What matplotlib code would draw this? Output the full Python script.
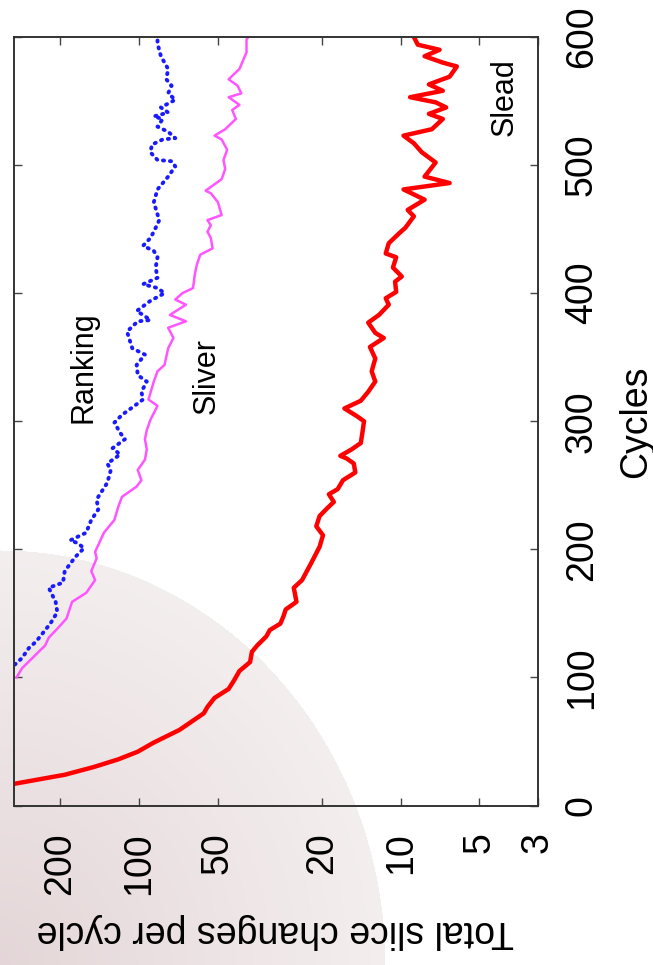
import numpy as np
import matplotlib
matplotlib.use('Agg')
import matplotlib.pyplot as plt

slead_cyc = [17, 20, 24, 30, 36, 42, 49, 59, 72, 77, 84, 91, 98, 105, 112, 120, 125,
             132, 137, 142, 148, 153, 159, 170, 176, 189, 202, 211, 218, 226, 232, 237,
             243, 247, 254, 260, 267, 271, 273, 278, 283, 291, 300, 304, 310, 316, 323,
             331, 339, 349, 358, 365, 369, 377, 383, 391, 396, 401, 409, 413, 420, 428,
             431, 439, 447, 451, 460, 465, 473, 481, 486, 491, 502, 510, 517, 523, 528,
             536, 540, 545, 549, 553, 558, 563, 569, 577, 580, 585, 590, 594, 600]
slead_val = [298, 247, 192, 149, 120, 101, 88, 70, 56.5, 54.7, 51.4, 45.4, 43.2, 41.3,
             37.6, 37, 35.3, 32.6, 31.6, 28.8, 28, 27.5, 25, 25.6, 23.8, 22, 20.4, 19.8,
             21, 20.4, 19.1, 18, 18.8, 17.4, 16.6, 14.9, 15.1, 16.1, 17.0, 15.4, 14.2, 14,
             13.8, 14.7, 16.4, 14.2, 13.3, 12.5, 12.9, 12.5, 13.1, 11.6, 12.5, 13.3, 12.1,
             11.1, 11.4, 10.4, 10.5, 9.9, 10.7, 10.4, 11.4, 11.1, 10.1, 9.6, 8.9, 9.4, 8.1,
             9.75, 6.5, 8.1, 7.35, 8.3, 8.9, 9.75, 7.6, 6.9, 7.8, 6.7, 7.35, 9.2, 6.9, 7.8,
             6.5, 6.1, 6.9, 8.1, 7.1, 8.6, 8.9]

sliver_cyc = [100, 107, 118, 125, 131, 138, 146, 159, 166, 176, 183, 193, 198, 213, 223,
              233, 241, 249, 254, 262, 270, 278, 286, 293, 301, 312, 317, 331, 339, 344,
              357, 365, 373, 378, 383, 391, 395, 400, 404, 415, 422, 430, 435, 443, 448,
              453, 457, 461, 471, 478, 480, 489, 497, 504, 512, 520, 523, 528, 536, 543,
              547, 553, 556, 562, 567, 575, 588, 598, 600]
sliver_val = [293, 280, 247, 228, 221, 205, 189, 180, 159, 147, 152, 145, 147, 136, 124,
              120, 116, 102, 97.8, 101, 94.8, 93.3, 94.8, 93.3, 90.4, 84.9, 91.9, 87.7,
              84.9, 79.8, 77.3, 73.8, 77.3, 66.1, 76.1, 66.1, 72.6, 68.2, 62.1, 61.1, 60.1,
              58.3, 52.3, 53.1, 54.7, 53.1, 54.7, 48.3, 49.9, 53.1, 55.6, 48.3, 46.8, 47.5,
              46, 48.3, 51.4, 46.8, 42.6, 44, 41.3, 45.4, 40.6, 42, 45.4, 41.3, 38.8, 38.8,
              38.2]

ranking_cyc = [110, 115, 123, 128, 135, 142, 146, 151, 159, 170, 174, 183, 194, 201, 205,
               207, 213, 223, 231, 239, 252, 262, 267, 274, 279, 286, 291, 299, 305, 312,
               317, 323, 331, 336, 344, 352, 357, 370, 378, 379, 383, 386, 394, 400, 404,
               407, 412, 420, 428, 433, 437, 443, 448, 454, 457, 471, 481, 491, 499, 503,
               504, 510, 516, 520, 521, 526, 530, 536, 538, 541, 545, 551, 556, 562, 567,
               575, 585, 595, 600]
ranking_val = [298, 280, 263, 247, 232, 218, 212, 205, 208, 221, 195, 192, 175, 162, 172,
               183, 159, 152, 143, 145, 132, 128, 132, 118, 126, 113, 118, 124, 116, 104,
               96.4, 97.8, 93.3, 101, 102, 94.8, 106, 111, 101, 90.4, 96.4, 102, 90.4, 79.8,
               84.9, 96.4, 84.9, 86.3, 84.9, 87.7, 96.4, 90.4, 87.7, 84.9, 83.6, 87.7, 84.9,
               77.3, 72.6, 75, 84.9, 90.4, 89.1, 81.1, 72.6, 77.3, 84.9, 81.1, 87.7, 77.3,
               82.4, 72.6, 77.3, 75, 78.6, 77.3, 82.4, 84.9, 84.9]

value_ticks = [200, 100, 50, 20, 10, 5, 3]
cycle_ticks = [0, 100, 200, 300, 400, 500, 600]

W, H, DPI = 653, 965, 100
font = 'Liberation Sans'
plt.rcParams['font.family'] = [font, 'DejaVu Sans']

fig = plt.figure(figsize=(W / DPI, H / DPI), dpi=DPI, facecolor='white')

# soft pink shading in the lower-left corner of the scan
bg = fig.add_axes([0, 0, 1, 1], zorder=-10)
yy, xx = np.mgrid[0:H, 0:W]
r = np.sqrt((xx / 385.0) ** 2 + ((H - yy) / 415.0) ** 2)
c0 = np.array([0.895, 0.840, 0.846])
c1 = np.array([0.955, 0.935, 0.937])
t = np.clip(r, 0, 1)[..., None]
img = c0 + (c1 - c0) * t
img[r > 1] = 1.0
bg.imshow(img, extent=[0, 1, 0, 1], aspect='auto', interpolation='bilinear')
bg.axis('off')

# main axes: chart is rotated 90 deg counter-clockwise
ax = fig.add_axes([14 / W, 1 - 805.5 / H, (537.5 - 14) / W, (805.5 - 37) / H], zorder=1)
ax.set_facecolor('none')

ax.plot(slead_val, slead_cyc, color='#ff0000', lw=3.2)
ax.plot(sliver_val, sliver_cyc, color='#ff55ff', lw=1.8)
ax.plot(ranking_val, ranking_cyc, color='#1a1aff', lw=2.8,
        linestyle=(0, (0.3, 1.5)), dash_capstyle='round')

ax.set_xscale('log')
ax.set_xlim(300, 3)
ax.set_ylim(0, 600)
ax.set_xticks(value_ticks)
ax.set_xticklabels([str(v) for v in value_ticks], rotation=90)
ax.xaxis.set_minor_locator(matplotlib.ticker.NullLocator())
ax.set_yticks(cycle_ticks)
ax.set_yticklabels([str(v) for v in cycle_ticks], rotation=90, va='center')

ax.tick_params(axis='both', which='major', direction='in', length=6, width=1,
               color='#444444', labelsize=27, pad=19, top=True, right=True,
               left=True, bottom=True)
ax.tick_params(axis='y', labelleft=False, labelright=True)
for sp in ax.spines.values():
    sp.set_color('#333333')
    sp.set_linewidth(1.4)

ax.set_xlabel('Total slice changes per cycle', fontsize=27, rotation=180,
              ha='center', va='center')
ax.xaxis.set_label_coords(0.5, -0.163)
ax.set_ylabel('Cycles', fontsize=27, rotation=90, ha='center', va='center')
ax.yaxis.set_label_coords(1.188, 0.5)

# series labels
ax.text(163, 342, 'Ranking', fontsize=22, rotation=90, ha='center', va='center')
ax.text(55.3, 335, 'Sliver', fontsize=22, rotation=90, ha='center', va='center')
ax.text(4.0, 553, 'Slead', fontsize=22, rotation=90, ha='center', va='center')

fig.savefig('out.png', dpi=DPI, facecolor='white')
